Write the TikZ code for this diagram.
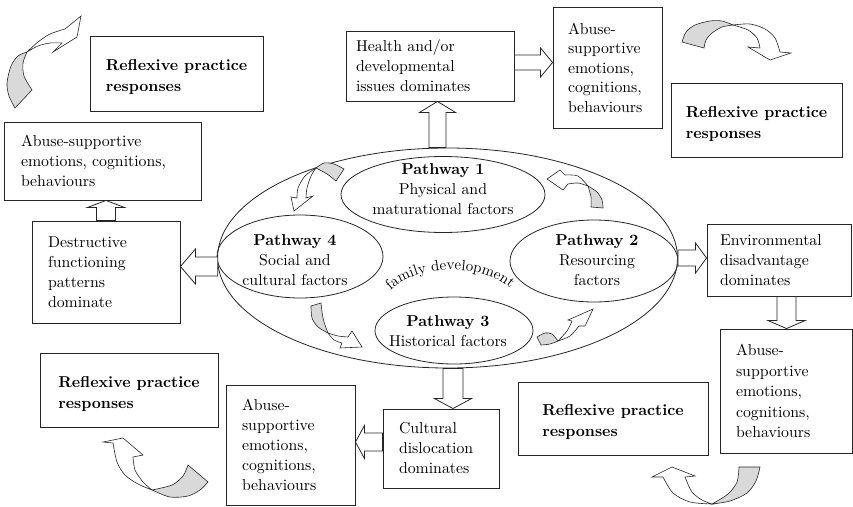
\documentclass[tikz,border=0pt]{standalone}
\usepackage{fontspec}
\setmainfont{lmroman10-regular.otf}[BoldFont=lmroman10-bold.otf]
\usetikzlibrary{calc,shapes.geometric,decorations.text}

% hollow block arrow from #1 to #2: shaft half width #3, head half width #4, head length #5
\newcommand\hollowarrow[5]{%
  \coordinate (hb) at ($(#2)!#5!(#1)$);
  \draw[blockarr] ($(#1)!#3!90:(#2)$) -- ($(hb)!#3!-90:(#1)$) -- ($(hb)!#4!-90:(#1)$)
    -- (#2) -- ($(hb)!#4!90:(#1)$) -- ($(hb)!#3!90:(#1)$) -- ($(#1)!#3!-90:(#2)$) -- cycle;}
% taller first line, pushes a two-line heading a little lower in its box
\newcommand\topstrut{\rule{0pt}{19pt}}

\begin{document}
\begin{tikzpicture}[x=1pt,y=-1pt,
  every node/.style={font=\fontsize{15.8}{20}\selectfont, inner sep=0pt},
  box/.style={draw=black!85, line width=0.9pt, rectangle, align=left, inner ysep=0pt},
  bbox/.style={box, font=\fontsize{15.8}{21}\selectfont\bfseries},
  ell/.style={draw=black!85, line width=0.8pt, ellipse, inner sep=0pt},
  ptext/.style={align=center},
  blockarr/.style={draw=black!85, line width=0.8pt, fill=white, line join=miter},
  ribbon/.style={draw=black!85, line width=0.6pt, fill=white, line join=miter},
  ribbonback/.style={ribbon, fill=black!15}]

\useasboundingbox (0,0) rectangle (853,506);

% central family development ellipse and the four pathways
\node[ell, minimum width=460, minimum height=220] (big) at (447.5,258) {};
\node[ell, minimum width=204, minimum height=76] (p1) at (443,194.5) {};
\node[ell, minimum width=166, minimum height=83] (p4) at (300,256.5) {};
\node[ell, minimum width=168, minimum height=82] (p2) at (594,261) {};
\node[ell, minimum width=158, minimum height=67] (p3) at (454,330.5) {};

\node[ptext] (p1t) at (443,189) {\textbf{Pathway 1}\\Physical and\\maturational factors};
\node[ptext] (p4t) at (295,260) {\textbf{Pathway 4}\\Social and\\cultural factors};
\node[ptext] (p2t) at (597,260.5) {\textbf{Pathway 2}\\Resourcing\\factors};
\node[ptext] (p3t) at (448,331.5) {\textbf{Pathway 3}\\Historical factors};

\path[decorate, decoration={text along path, text align=center,
  text={|\fontsize{15}{15}\selectfont|family development}}]
  (387,294) .. controls (414,262) and (486,262) .. (514,292);

% outcome boxes
\node[bbox, minimum width=173, minimum height=75] (rTL) at (176.5,73.5) {\topstrut Reflexive practice\\responses};
\node[box, minimum width=168, minimum height=70, text width=148, inner xsep=10] (health) at (430,66) {Health and/or\\developmental\\issues dominates};
\node[box, font=\fontsize{15.8}{19.5}\selectfont, minimum width=109, minimum height=121, text width=79, inner xsep=15] (aTR) at (607.5,67.5) {Abuse-\\supportive\\emotions,\\cognitions,\\behaviours};
\node[bbox, minimum width=171, minimum height=74] (rTR) at (756.5,120) {\topstrut Reflexive practice\\responses};
\node[box, minimum width=197, minimum height=78, text width=163, inner xsep=17] (aL) at (102.5,161) {Abuse-supportive\\emotions, cognitions,\\behaviours};
\node[box, minimum width=148, minimum height=102, text width=116, inner xsep=16] (destr) at (106,272) {Destructive\\functioning\\patterns\\dominate};
\node[box, minimum width=144, minimum height=72, text width=118, inner xsep=13] (env) at (779,260) {Environmental\\disadvantage\\dominates};
\node[box, font=\fontsize{15.8}{20.5}\selectfont, minimum width=132, minimum height=124, text width=100, inner xsep=16] (aR) at (786,391) {Abuse-\\supportive\\emotions,\\cognitions,\\behaviours};
\node[bbox, minimum width=190, minimum height=73] (rBR) at (613,418.5) {\topstrut Reflexive practice\\responses};
\node[bbox, minimum width=178, minimum height=74] (rBL) at (129,390) {\topstrut Reflexive practice\\responses};
\node[box, minimum width=129, minimum height=120, text width=97, inner xsep=16] (aB) at (290.5,445) {Abuse-\\supportive\\emotions,\\cognitions,\\behaviours};
\node[box, minimum width=116, minimum height=79, text width=84, inner xsep=16] (cult) at (441,448.5) {Cultural\\dislocation\\dominates};

% hollow block arrows between ellipse and boxes
\coordinate (a1s) at ($(big.north)+(-10,0)$);   \coordinate (a1e) at (a1s |- health.south);
\hollowarrow{a1s}{a1e}{8.5pt}{18pt}{11pt}
\coordinate (a2s) at ($(health.east)+(0,-3.5)$); \coordinate (a2e) at (aTR.west |- a2s);
\hollowarrow{a2s}{a2e}{7.5pt}{14.5pt}{12pt}
\coordinate (a3s) at ($(big.west)+(0.7,8.5)$);   \coordinate (a3e) at (destr.east |- a3s);
\hollowarrow{a3s}{a3e}{9.5pt}{17.5pt}{15pt}
\coordinate (a4s) at (destr.north);              \coordinate (a4e) at (a4s |- aL.south);
\hollowarrow{a4s}{a4e}{9.5pt}{18.5pt}{7pt}
\coordinate (a5s) at (big.east);                 \coordinate (a5e) at (env.west |- a5s);
\hollowarrow{a5s}{a5e}{8pt}{15pt}{11pt}
\coordinate (a6s) at ($(env.south)+(7.5,0)$);    \coordinate (a6e) at (a6s |- aR.north);
\hollowarrow{a6s}{a6e}{9.5pt}{18.5pt}{8pt}
\coordinate (a7s) at ($(big.south)+(5.5,0)$);    \coordinate (a7e) at (a7s |- cult.north);
\hollowarrow{a7s}{a7e}{10pt}{18.5pt}{10pt}
\coordinate (a8s) at ($(cult.west)+(0,-6.5)$);   \coordinate (a8e) at (aB.east |- a8s);
\hollowarrow{a8s}{a8e}{9pt}{16.5pt}{9pt}

% twisted ribbon arrows: top left
\draw[ribbon] plot[smooth] coordinates {(27,52) (38,42) (50,34) (65,29)} -- (81,16) -- (77,37) -- (53,52) -- (62,43)
  -- plot[smooth] coordinates {(62,43) (50,43) (38,46) (27,52)} -- cycle;
\draw[ribbonback] plot[smooth] coordinates {(15,108) (9,96) (7,83) (11,66) (18,56) (27,52)}
  -- plot[smooth] coordinates {(27,52) (23,63) (24,76) (32,90)} -- cycle;
% top right
\draw[ribbon] plot[smooth] coordinates {(733,25) (750,24) (765,29) (775,38) (780,52)} -- (791,53) -- (770,60) -- (748,47) -- (760,48)
  -- plot[smooth] coordinates {(760,48) (757,38) (748,30) (733,25)} -- cycle;
\draw[ribbonback] plot[smooth] coordinates {(682,42) (686,32) (695,25) (710,21) (722,21) (733,25)}
  -- plot[smooth] coordinates {(733,25) (722,27) (712,33) (706,40) (704,48)} -- cycle;
% bottom left
\draw[ribbon] plot[smooth] coordinates {(152,490) (138,484) (125,475) (117,462) (113,443)} -- (103,442) -- (123,438) -- (143,455) -- (133,457)
  -- plot[smooth] coordinates {(133,457) (135,470) (143,482) (152,490)} -- cycle;
\draw[ribbonback] plot[smooth] coordinates {(152,490) (170,497) (188,496) (200,490) (208,482)} -- (188,465)
  -- plot[smooth] coordinates {(188,465) (183,476) (172,485) (152,490)} -- cycle;
% bottom right
\draw[ribbon] plot[smooth] coordinates {(712,504) (690,502) (673,493) (663,477)} -- (652,477) -- (672,467) -- (695,476) -- (685,477)
  -- plot[smooth] coordinates {(685,477) (692,492) (702,500) (712,504)} -- cycle;
\draw[ribbonback] plot[smooth] coordinates {(712,504) (730,501) (747,493) (756,481) (760,467)} -- (739,467)
  -- plot[smooth] coordinates {(739,467) (737,482) (728,494) (712,504)} -- cycle;

% small ribbons between the pathways
\draw[ribbon] plot[smooth] coordinates {(316,168) (305,176) (298,188) (297,198)} -- (291,197) -- (294,211) -- (313,196) -- (306,198)
  -- plot[smooth] coordinates {(306,198) (307,188) (311,176) (316,168)} -- cycle;
\draw[ribbonback] plot[smooth] coordinates {(316,168) (324,163) (334,164) (344,169)} -- (336,181)
  -- plot[smooth] coordinates {(336,181) (327,174) (316,168)} -- cycle;

\draw[ribbon] plot[smooth] coordinates {(588,186) (578,183) (568,184)} -- (563,190) -- (547,179) -- (560,170) -- (565,175)
  -- plot[smooth] coordinates {(565,175) (578,176) (588,186)} -- cycle;
\draw[ribbonback] plot[smooth] coordinates {(588,186) (597,192) (602,200) (603,208)} -- (591,207)
  -- plot[smooth] coordinates {(591,207) (591,197) (588,186)} -- cycle;

\draw[ribbon] plot[smooth] coordinates {(328,333) (334,340) (342,343)} -- (340,348) -- (362,347) -- (352,331) -- (348,337)
  -- plot[smooth] coordinates {(348,337) (338,336) (328,333)} -- cycle;
\draw[ribbonback] plot[smooth] coordinates {(311,306) (312,318) (318,327) (328,333)}
  -- plot[smooth] coordinates {(328,333) (324,322) (322,312) (321,303)} -- cycle;

\draw[ribbon] plot[smooth] coordinates {(558,341) (570,336) (579,326)} -- (585,326) -- (593,309) -- (568,320) -- (572,321)
  -- plot[smooth] coordinates {(572,321) (567,331) (558,341)} -- cycle;
\draw[ribbonback] plot[smooth] coordinates {(537,337) (545,333) (552,334) (558,341)}
  -- plot[smooth] coordinates {(558,341) (550,344) (541,345)} -- cycle;
\end{tikzpicture}
\end{document}
